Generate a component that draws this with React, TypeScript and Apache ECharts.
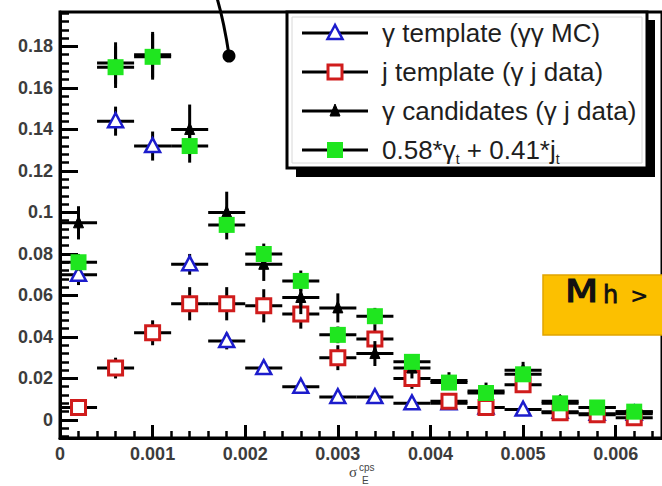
import React, { useEffect, useRef } from "react";
import * as echarts from "echarts";

// ---- data ----
const binCenters = [0.0002, 0.0006, 0.001, 0.0014, 0.0018, 0.0022, 0.0026, 0.003, 0.0034, 0.0038, 0.0042, 0.0046, 0.005, 0.0054, 0.0058, 0.0062];
const BIN_HALF_WIDTH = 0.0002;

const gammaTemplate = [0.070, 0.144, 0.132, 0.075, 0.038, 0.025, 0.016, 0.011, 0.011, 0.008, 0.008, 0.006, 0.005, 0.004, 0.003, 0.003];
const gammaTemplateErr = [0.005, 0.007, 0.007, 0.005, 0.004, 0.003, 0.003, 0.002, 0.002, 0.002, 0.002, 0.002, 0.002, 0.002, 0.002, 0.002];

const jetTemplate = [0.006, 0.025, 0.042, 0.056, 0.056, 0.055, 0.051, 0.030, 0.039, 0.020, 0.009, 0.006, 0.017, 0.0035, 0.0025, 0.001];
const jetTemplateErr = [0.003, 0.005, 0.006, 0.008, 0.008, 0.008, 0.007, 0.006, 0.007, 0.005, 0.003, 0.003, 0.004, 0.002, 0.002, 0.002];

const candidates = [0.095, 0.172, 0.176, 0.140, 0.100, 0.075, 0.059, 0.054, 0.032, 0.025, 0.019, 0.014, 0.024, 0.009, 0.006, 0.004];
const candidatesErr = [0.008, 0.010, 0.011, 0.012, 0.010, 0.008, 0.008, 0.007, 0.006, 0.005, 0.004, 0.004, 0.004, 0.003, 0.003, 0.003];

const fitSum = [0.076, 0.170, 0.175, 0.132, 0.094, 0.080, 0.067, 0.041, 0.050, 0.028, 0.018, 0.013, 0.022, 0.008, 0.006, 0.004];
const fitSumErr = [0.004, 0.010, 0.011, 0.008, 0.007, 0.005, 0.005, 0.004, 0.004, 0.003, 0.002, 0.002, 0.003, 0.002, 0.002, 0.002];

const xTickLabels = ["0", "0.001", "0.002", "0.003", "0.004", "0.005", "0.006"];
const yTickLabels = ["0", "0.02", "0.04", "0.06", "0.08", "0.1", "0.12", "0.14", "0.16", "0.18"];

const legendLabels = ["γ template (γγ MC)", "j template (γ j data)", "γ candidates (γ j data)"];

const X_MIN = 0;
const X_MAX = 0.0065;
const Y_MIN = -0.0087;
const Y_MAX = 0.1966;

const BLUE = "#1c1ccc";
const RED = "#d01c1c";
const GREEN = "#1fe61f";

type Kind = "openTriangle" | "openSquare" | "solidTriangle" | "solidSquare";

function marker(kind: Kind, cx: number, cy: number): any {
  if (kind === "openTriangle") {
    return {
      type: "polygon",
      shape: { points: [[cx, cy - 8], [cx - 7.5, cy + 6], [cx + 7.5, cy + 6]] },
      style: { fill: "#fff", stroke: BLUE, lineWidth: 2.5 },
    };
  }
  if (kind === "openSquare") {
    return {
      type: "rect",
      shape: { x: cx - 7, y: cy - 7, width: 14, height: 14 },
      style: { fill: "#fff", stroke: RED, lineWidth: 3 },
    };
  }
  if (kind === "solidTriangle") {
    return {
      type: "polygon",
      shape: { points: [[cx, cy - 7], [cx - 5, cy + 5], [cx + 5, cy + 5]] },
      style: { fill: "#000", stroke: "#000", lineWidth: 1 },
    };
  }
  return {
    type: "rect",
    shape: { x: cx - 8, y: cy - 8, width: 16, height: 16 },
    style: { fill: GREEN },
  };
}

function makeRender(kind: Kind) {
  return (_params: any, api: any) => {
    const x = api.value(0);
    const y = api.value(1);
    const e = api.value(2);
    const c = api.coord([x, y]);
    const l = api.coord([x - BIN_HALF_WIDTH, y]);
    const r = api.coord([x + BIN_HALF_WIDTH, y]);
    const t = api.coord([x, y + e]);
    const b = api.coord([x, y - e]);
    const bar = { stroke: "#000", lineWidth: 3 };
    return {
      type: "group",
      children: [
        { type: "line", shape: { x1: l[0], y1: c[1], x2: r[0], y2: c[1] }, style: bar },
        { type: "line", shape: { x1: c[0], y1: t[1], x2: c[0], y2: b[1] }, style: bar },
        marker(kind, c[0], c[1]),
      ],
    };
  };
}

function seriesData(vals: number[], errs: number[]) {
  return binCenters.map((x, i) => [x, vals[i], errs[i]]);
}

function range(start: number, stop: number, step: number, skipEvery: number) {
  const out: number[] = [];
  for (let v = start; v <= stop + 1e-12; v += step) {
    const idx = Math.round((v - start) / step);
    if (skipEvery && idx % skipEvery === 0) continue;
    out.push(Number(v.toFixed(6)));
  }
  return out;
}

export default function App() {
  const ref = useRef<HTMLDivElement>(null);
  useEffect(() => {
    if (!ref.current) return;
    const chart = echarts.init(ref.current, undefined, { renderer: "svg" });
    const xMajor = xTickLabels.map(Number);
    const yMajor = yTickLabels.map(Number);
    // minor ticks: 5 subdivisions per major interval
    const xMinor = range(0, 0.0064, 0.0002, 5);
    const yMinor = range(-0.008, 0.196, 0.004, 0).filter(
      (v) => !yMajor.some((m) => Math.abs(m - v) < 1e-9)
    );
    const labelStyle = { color: "#3c3c3c", fontSize: 18, fontWeight: "bold" as const, fontFamily: "Liberation Sans, Arial, sans-serif" };
    const legendText = { fill: "#1e1e1e", fontSize: 26, fontFamily: "Liberation Sans, Arial, sans-serif" };
    const rowY = [33, 72, 111, 150];
    const kinds: Kind[] = ["openTriangle", "openSquare", "solidTriangle", "solidSquare"];

    const graphic: any[] = [
      // annotation arrow
      {
        type: "bezierCurve",
        shape: { x1: 217, y1: -2, x2: 229, y2: 55, cpx1: 222, cpy1: 15, cpx2: 226, cpy2: 35 },
        style: { stroke: "#000", lineWidth: 3, fill: null },
        z: 100,
      },
      { type: "circle", shape: { cx: 229, cy: 56, r: 6.5 }, style: { fill: "#000" }, z: 100 },
      // legend box
      { type: "rect", shape: { x: 296, y: 20, width: 359, height: 157 }, style: { fill: "#000" }, z: 100 },
      { type: "rect", shape: { x: 287, y: 12, width: 360, height: 156 }, style: { fill: "#fff", stroke: "#000", lineWidth: 3 }, z: 101 },
      { type: "rect", shape: { x: 292, y: 17, width: 350, height: 146 }, style: { fill: null, stroke: "#d8d8d8", lineWidth: 1 }, z: 101 },
    ];
    rowY.forEach((y, i) => {
      graphic.push({ type: "line", shape: { x1: 302, y1: y, x2: 368, y2: y }, style: { stroke: "#000", lineWidth: 3 }, z: 102 });
      graphic.push({ ...marker(kinds[i], 335, y), z: 103 });
      if (i < 3) {
        graphic.push({ type: "text", x: 382, y, style: { ...legendText, text: legendLabels[i], verticalAlign: "middle" }, z: 103 });
      }
    });
    graphic.push({
      type: "text",
      x: 382,
      y: rowY[3] - 16,
      style: {
        text: "{m|0.58*γ}{s|t}{m| + 0.41*j}{s|t}",
        verticalAlign: "top",
        rich: {
          m: { ...legendText, lineHeight: 32, verticalAlign: "middle" },
          s: { fill: "#1e1e1e", fontSize: 14, fontFamily: "Liberation Sans, Arial, sans-serif", lineHeight: 8, verticalAlign: "bottom" },
        },
      },
      z: 103,
    });
    // orange label box
    graphic.push({ type: "rect", shape: { x: 543, y: 275, width: 130, height: 60 }, style: { fill: "#fcc000", stroke: "#e0a400", lineWidth: 1.5 }, z: 100 });
    const hand = "DejaVu Sans, sans-serif";
    graphic.push({ type: "text", x: 565, y: 307, scaleX: 1.2, style: { text: "M", fill: "#111", stroke: "#111", lineWidth: 1.2, fontSize: 32, fontFamily: hand, verticalAlign: "bottom" }, z: 101 });
    graphic.push({ type: "text", x: 603, y: 307, style: { text: "h", fill: "#111", stroke: "#111", lineWidth: 0.8, fontSize: 24, fontFamily: hand, verticalAlign: "bottom" }, z: 101 });
    graphic.push({ type: "text", x: 630, y: 295, style: { text: ">", fill: "#111", fontSize: 22, fontWeight: "bold", fontFamily: hand, verticalAlign: "middle" }, z: 101 });
    // x-axis title sigma_E^cps
    graphic.push({ type: "text", x: 349, y: 472, style: { text: "σ", fill: "#444", fontSize: 15, fontFamily: "Liberation Serif, serif", verticalAlign: "middle" } });
    graphic.push({ type: "text", x: 359, y: 467, style: { text: "cps", fill: "#444", fontSize: 10, fontFamily: "Liberation Sans, sans-serif", verticalAlign: "middle" } });
    graphic.push({ type: "text", x: 362, y: 480, style: { text: "E", fill: "#444", fontSize: 10, fontFamily: "Liberation Sans, sans-serif", verticalAlign: "middle" } });

    const seriesDefs: [Kind, number[], number[]][] = [
      ["openTriangle", gammaTemplate, gammaTemplateErr],
      ["openSquare", jetTemplate, jetTemplateErr],
      ["solidTriangle", candidates, candidatesErr],
      ["solidSquare", fitSum, fitSumErr],
    ];

    chart.setOption({
      animation: false,
      backgroundColor: "#fff",
      grid: { show: true, left: 60, top: 12, right: -15.5, bottom: 48, borderColor: "#000", borderWidth: 3, backgroundColor: "transparent" },
      xAxis: [
        {
          type: "value", min: X_MIN, max: X_MAX, position: "bottom",
          axisLine: { show: true, onZero: false, lineStyle: { color: "#000", width: 3 } },
          splitLine: { show: false },
          axisTick: { show: true, inside: true, length: 13, customValues: xMajor, lineStyle: { color: "#000", width: 3 } },
          axisLabel: { show: true, margin: 7, customValues: xMajor, formatter: (v: number) => xTickLabels[xMajor.findIndex((m) => Math.abs(m - v) < 1e-9)] ?? "", ...labelStyle },
        },
        {
          type: "value", min: X_MIN, max: X_MAX, position: "bottom", offset: 0,
          axisLine: { show: false, onZero: false },
          splitLine: { show: false },
          axisTick: { show: true, inside: true, length: 7, customValues: xMinor, lineStyle: { color: "#000", width: 2.5 } },
          axisLabel: { show: false },
        },
      ],
      yAxis: [
        {
          type: "value", min: Y_MIN, max: Y_MAX, position: "left",
          axisLine: { show: true, onZero: false, lineStyle: { color: "#000", width: 3 } },
          splitLine: { show: false },
          axisTick: { show: true, inside: true, length: 18, customValues: yMajor, lineStyle: { color: "#000", width: 3 } },
          axisLabel: { show: true, margin: 7, customValues: yMajor, formatter: (v: number) => yTickLabels[yMajor.findIndex((m) => Math.abs(m - v) < 1e-9)] ?? "", ...labelStyle },
        },
        {
          type: "value", min: Y_MIN, max: Y_MAX, position: "left", offset: 0,
          axisLine: { show: false, onZero: false },
          splitLine: { show: false },
          axisTick: { show: true, inside: true, length: 9, customValues: yMinor, lineStyle: { color: "#000", width: 2.5 } },
          axisLabel: { show: false },
        },
      ],
      series: seriesDefs.map(([kind, vals, errs], i) => ({
        type: "custom",
        xAxisIndex: 0,
        yAxisIndex: 0,
        clip: false,
        z: 2 + i,
        renderItem: makeRender(kind),
        data: seriesData(vals, errs),
      })),
      graphic,
    });
    return () => chart.dispose();
  }, []);
  return <div ref={ref} style={{ position: "fixed", left: 0, top: 0, width: 662, height: 486, background: "#fff" }} />;
}
